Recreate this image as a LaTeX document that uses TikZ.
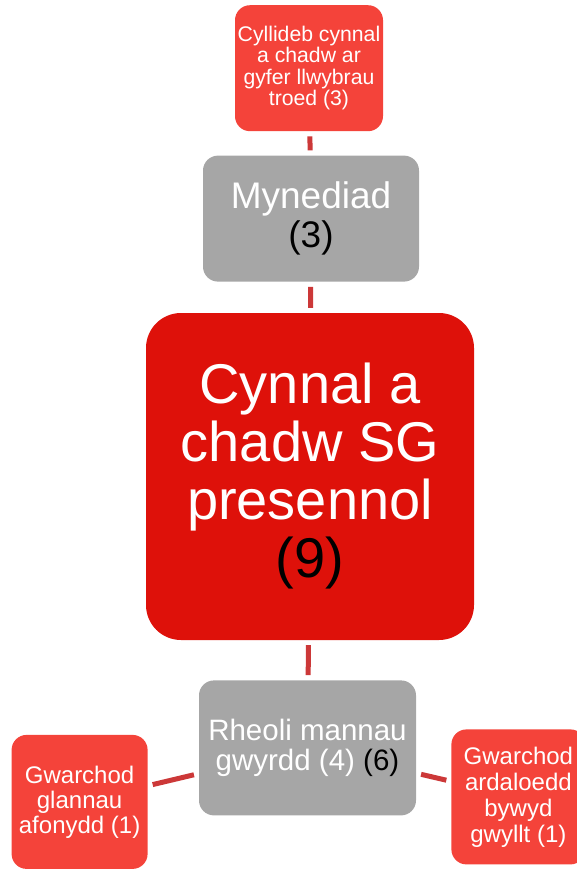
\documentclass[tikz,border=0pt]{standalone}
\usepackage{fontspec}
\setmainfont{Liberation Sans}
\usetikzlibrary{positioning}
\definecolor{leafred}{RGB}{244,67,58}
\definecolor{corered}{RGB}{222,17,10}
\definecolor{midgrey}{RGB}{166,166,166}
\definecolor{linkred}{RGB}{204,56,56}

\begin{document}
\begin{tikzpicture}[x=1pt, y=-1pt]
        \tikzstyle{box}=[rectangle, rounded corners=15pt, inner sep=0pt, align=center, text=white];
        \tikzstyle{leaf}=[box, fill=leafred];
        \tikzstyle{topic}=[box, fill=midgrey];
        \tikzstyle{link}=[draw=linkred, line width=5pt, shorten <=5pt, shorten >=5pt];

        \useasboundingbox (0,0) rectangle (577,870);
        \clip (0,0) rectangle (577,870);

        \node [box, fill=corered, rounded corners=35pt, minimum width=328pt, minimum height=327pt, font=\fontsize{56}{58}\selectfont] (Core) at (310,476.5) {Cynnal a\\chadw SG\\presennol\\{\color{black}(9)}};

        \node [topic, above=31pt of Core, xshift=1pt, minimum width=216pt, minimum height=126pt, font=\fontsize{37}{39}\selectfont] (Access) {Mynediad\\{\color{black}(3)}};
        \node [leaf, above=24pt of Access, xshift=-2pt, minimum width=148pt, minimum height=126pt, font=\fontsize{21.2}{21.5}\selectfont] (Budget) {Cyllideb cynnal\\a chadw ar\\gyfer llwybrau\\troed (3)};

        \node [topic, below=40pt of Core, xshift=-2.5pt, minimum width=217pt, minimum height=135pt, font=\fontsize{29.5}{30}\selectfont] (Green) {Rheoli mannau\\gwyrdd (4) {\color{black}(6)}};
        \node [leaf, left=51pt of Green, yshift=-54pt, minimum width=136pt, minimum height=134pt, font=\fontsize{24}{25}\selectfont] (River) {Gwarchod\\glannau\\afonydd (1)};
        \node [leaf, right=35pt of Green, yshift=-49pt, minimum width=134pt, minimum height=135pt, font=\fontsize{24}{26}\selectfont] (Wild) {Gwarchod\\ardaloedd\\bywyd\\gwyllt (1)};

        \draw [link] (Budget) -- (Access);
        \draw [link] (Access) -- (Core);
        \draw [link] (Core) -- (Green);
        \draw [link] (River) -- (Green);
        \draw [link] (Green) -- (Wild);
\end{tikzpicture}
\end{document}
